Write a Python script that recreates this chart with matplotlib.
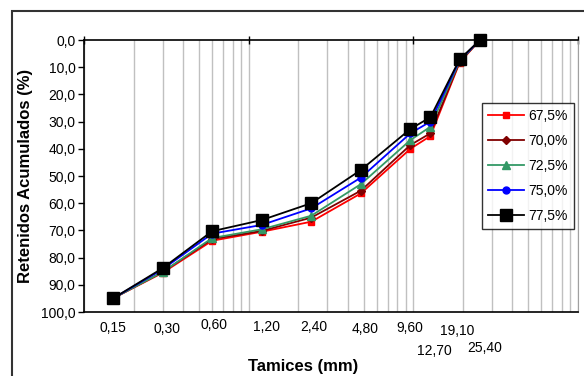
import matplotlib
matplotlib.use("Agg")
import matplotlib.pyplot as plt
from matplotlib.patches import Rectangle
from matplotlib.ticker import LogLocator, NullLocator, FixedLocator, NullFormatter

plt.rcParams['font.family'] = ['Liberation Sans', 'DejaVu Sans']

# --- data ---
sieves = [0.15, 0.30, 0.60, 1.20, 2.40, 4.80, 9.60, 12.70, 19.10, 25.40]
sieve_labels = ["0,15", "0,30", "0,60", "1,20", "2,40", "4,80", "9,60", "12,70", "19,10", "25,40"]
series_names = ["67,5%", "70,0%", "72,5%", "75,0%", "77,5%"]
s675 = [95.0, 85.6, 73.8, 70.5, 66.8, 56.4, 40.0, 35.3, 8.3, 0.0]
s700 = [95.0, 85.3, 73.2, 70.2, 65.3, 55.4, 38.6, 34.3, 8.0, 0.0]
s725 = [95.0, 85.3, 72.8, 69.6, 64.6, 53.0, 36.8, 31.9, 7.8, 0.0]
s750 = [95.0, 84.3, 71.2, 68.0, 61.9, 50.6, 34.3, 30.0, 7.4, 0.0]
s775 = [95.0, 83.9, 70.3, 66.2, 60.0, 47.8, 32.7, 28.4, 7.1, 0.0]
yticks = [0, 10, 20, 30, 40, 50, 60, 70, 80, 90, 100]

# --- styles ---
colors = ['#FF0000', '#800000', '#339966', '#0000FF', '#000000']
markers = ['s', 'D', '^', 'o', 's']
msizes = [5, 4.5, 6, 5, 9]
# label offsets (pixels) relative to data x / axes bottom
lab_dx = [0, 4.5, 2, 5, 3, 4, -0.7, 4, -2, 5]
lab_dy = [15.7, 17.3, 13.3, 15.3, 14.7, 17.3, 16.3, 39, 19, 36.3]

W, H = 584, 376
fig = plt.figure(figsize=(W / 100, H / 100), dpi=100)
ax = fig.add_axes([84 / W, 1 - 312 / H, (578 - 84) / W, (312 - 40) / H])

series = [s675, s700, s725, s750, s775]
for vals, name, c, m, ms in zip(series, series_names, colors, markers, msizes):
    ax.plot(sieves, vals, color=c, marker=m, markersize=ms, lw=1.3,
            markeredgecolor=c, label=name, clip_on=False)

ax.set_xscale('log')
ax.set_xlim(0.1, 100)
ax.set_ylim(100, 0)

ax.xaxis.set_major_locator(FixedLocator([0.1, 1, 10, 100]))
ax.xaxis.set_minor_locator(LogLocator(base=10, subs=range(2, 10)))
ax.xaxis.set_major_formatter(NullFormatter())
ax.xaxis.set_minor_formatter(NullFormatter())
ax.grid(True, which='both', axis='x', color='#c0c0c0', lw=1)
ax.xaxis.tick_top()
ax.tick_params(axis='x', which='major', direction='inout', length=6, width=1, color='black')
ax.tick_params(axis='x', which='minor', length=0)

ax.set_yticks(yticks)
ax.set_yticklabels([f"{v:.1f}".replace('.', ',') for v in yticks], fontsize=10)
ax.tick_params(axis='y', direction='out', length=4, width=1, pad=2)

for sp in ['left', 'top', 'bottom']:
    ax.spines[sp].set_color('black')
    ax.spines[sp].set_linewidth(1.2)
ax.spines['right'].set_color('#a0a0a0')

# x category labels placed under each sieve
for xv, lab, dx, dy in zip(sieves, sieve_labels, lab_dx, lab_dy):
    ax.annotate(lab, xy=(xv, 0), xycoords=('data', 'axes fraction'),
                xytext=(dx * 0.72, -dy * 0.72), textcoords='offset points',
                ha='center', va='center', fontsize=10, annotation_clip=False)

ax.set_ylabel("Retenidos Acumulados (%)", fontsize=12, fontweight='bold', labelpad=6)
fig.text(303 / W, 1 - 367 / H, "Tamices (mm)", fontsize=12, fontweight='bold',
         ha='center', va='center')

leg = ax.legend(loc='upper left', bbox_to_anchor=((482 - 84) / 494, (312 - 103) / 272),
                borderaxespad=0, fontsize=10, frameon=True, fancybox=False,
                edgecolor='black', labelspacing=0.78, handlelength=2.6,
                handletextpad=0.3, borderpad=0.45)
leg.get_frame().set_linewidth(1.0)

# outer chart frame
fig.add_artist(Rectangle((12 / W, -0.02), 1.1, 1 - 11 / H + 0.02, transform=fig.transFigure,
                         fill=False, edgecolor='#333333', lw=1.5))

fig.savefig("out.png", dpi=100)
